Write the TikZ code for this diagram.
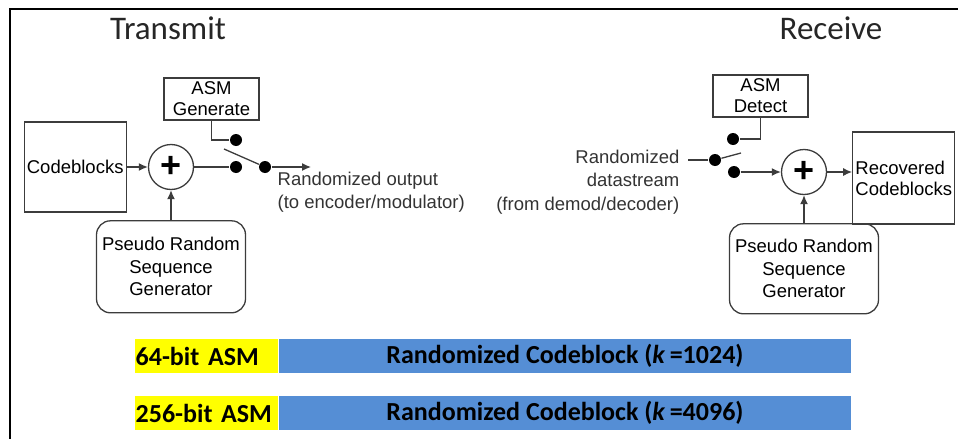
\documentclass[tikz,border=0pt]{standalone}
\usepackage{fontspec}
\setmainfont{Liberation Sans}
\newfontfamily\calfont{Carlito}
\usepackage{tikz}
\usetikzlibrary{positioning, arrows, arrows.meta}
\usepackage{xcolor}
\definecolor{linegray}{HTML}{3C3C3C}
\definecolor{barblue}{HTML}{558ED5}
\definecolor{baryellow}{HTML}{FFFF00}

\begin{document}
\begin{tikzpicture}[x=1pt, y=-1pt, >={Latex[length=9pt, width=8pt]}, line width=1.3pt,
    block/.style={draw=linegray, line width=1.3pt, inner sep=0pt, align=center,
        font=\fontsize{18.5}{21}\selectfont},
    prsg/.style={block, rounded corners=14pt, minimum width=149pt, minimum height=92pt,
        font=\fontsize{18.5}{22.5}\selectfont},
    adder/.style={draw=linegray, circle, minimum size=45pt, inner sep=0pt,
        font=\bfseries\fontsize{36}{36}\selectfont},
    contact/.style={circle, fill=black, minimum size=12pt, inner sep=0pt},
    title/.style={font=\calfont\fontsize{33}{33}\selectfont, text=black!85},
    note/.style={font=\fontsize{18.5}{23.5}\selectfont, text=black!80, inner sep=0pt},
    asmbar/.style={fill=baryellow, minimum height=34pt, text width=141pt, inner xsep=1pt,
        inner ysep=0pt, align=left, anchor=west, font=\calfont\bfseries\fontsize{26}{26}\selectfont},
    cbbar/.style={fill=barblue, minimum height=34pt, minimum width=572pt, inner sep=0pt,
        font=\calfont\bfseries\fontsize{26}{26}\selectfont}]
    \useasboundingbox (0,0) rectangle (958,439);
    \draw[line width=2pt] (958,9) -- (10,9) -- (10,439);

    % transmit side
    \node[title] (ttitle) at (168,28) {Transmit};
    \node[adder] (tadd) at (171,167) {+};
    \node[block, left=21pt of tadd, minimum width=102pt, minimum height=90pt] (tcb) {Codeblocks};
    \node[prsg, below=30pt of tadd] (tprsg) {Pseudo Random\\Sequence\\Generator};
    \node[block, minimum width=95pt, minimum height=42pt] (tasm) at (211.5,99) {ASM\\Generate};
    \node[contact] (td1) at (236,140) {};
    \node[contact] (td2) at (236,167) {};
    \node[contact] (td3) at (265,167) {};
    \coordinate (tlever) at (224,149);
    \coordinate (tout) at (311,167);
    \node[note, anchor=north west, align=left] (touttext) at (277,171)
        {Randomized output\\(to encoder/modulator)};

    \draw[->, linegray] (tcb) -- (tadd);
    \draw[->, linegray] (tprsg) -- (tadd);
    \draw[linegray] (tadd) -- (td2);
    \draw[linegray] (tasm.south) |- (td1);
    \draw[linegray] (td3) -- (tlever);
    \draw[->, linegray] (td3) -- (tout);

    % receive side
    \node[title] (rtitle) at (831,28) {Receive};
    \node[adder] (radd) at (804,172) {+};
    \node[block, right=25pt of radd, yshift=-6pt, minimum width=102pt, minimum height=92pt,
        align=left] (rcb) {Recovered\\Codeblocks};
    \node[prsg, below=28pt of radd, minimum height=90pt] (rprsg) {Pseudo Random\\Sequence\\Generator};
    \node[block, minimum width=95pt, minimum height=42pt] (rasm) at (760.5,96) {ASM\\Detect};
    \node[contact] (rd0) at (715,160) {};
    \node[contact] (rd1) at (733,139) {};
    \node[contact] (rd2) at (734,172) {};
    \coordinate (rin) at (688,160);
    \coordinate (rlever) at (741,153);
    \node[note, anchor=north east, align=right] (rintext) at (680,149)
        {Randomized\\datastream\\(from demod/decoder)};

    \draw[linegray] (rin) -- (rd0);
    \draw[linegray] (rd0) -- (rlever);
    \draw[linegray] (rasm.south) |- (rd1);
    \draw[->, linegray] (rd2) -- (radd);
    \draw[->, linegray] (radd) -- (radd -| rcb.west);
    \draw[->, linegray] (rprsg) -- (radd);

    % frame formats
    \node[asmbar] (asm1) at (134,356) {64-bit ASM};
    \node[cbbar, right=0pt of asm1] (cb1) {Randomized Codeblock (\textit{k}\,=1024)};
    \node[asmbar, below=22pt of asm1] (asm2) {256-bit ASM};
    \node[cbbar, right=0pt of asm2] (cb2) {Randomized Codeblock (\textit{k}\,=4096)};
\end{tikzpicture}
\end{document}
